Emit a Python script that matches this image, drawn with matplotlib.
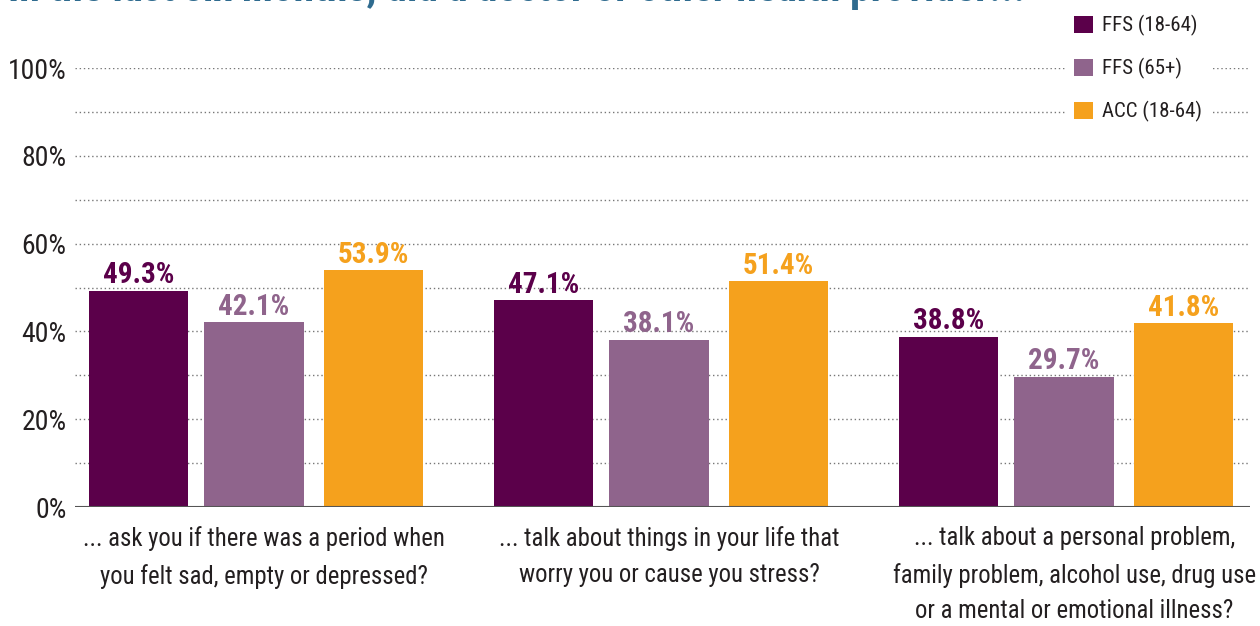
import matplotlib.pyplot as plt
import numpy as np

plt.rcParams["font.family"] = ["Roboto Condensed", "PT Sans Narrow", "IBM Plex Sans Condensed", "DejaVu Sans"]

# data
categories = [
    "... ask you if there was a period when\nyou felt sad, empty or depressed?",
    "... talk about things in your life that\nworry you or cause you stress?",
    "... talk about a personal problem,\nfamily problem, alcohol use, drug use\nor a mental or emotional illness?",
]
series_names = ["FFS (18-64)", "FFS (65+)", "ACC (18-64)"]
ffs_18_64 = [49.3, 47.1, 38.8]
ffs_65 = [42.1, 38.1, 29.7]
acc_18_64 = [53.9, 51.4, 41.8]
yticks = [0, 20, 40, 60, 80, 100]
ytick_labels = ["0%", "20%", "40%", "60%", "80%", "100%"]

colors = ["#5b004a", "#8f648c", "#f5a11d"]
text_dark = "#231f20"
title_color = "#2f6b8f"

fig = plt.figure(figsize=(12.6, 6.26), dpi=100)
fig.set_facecolor("w")
ax = fig.add_axes([75 / 1260, 1 - 507 / 626, 1175 / 1260, (507 - 68) / 626])

x = np.arange(len(categories))
offsets = [-0.29, -0.005, 0.29]
width = 0.245

for vals, off, col, name in zip([ffs_18_64, ffs_65, acc_18_64], offsets, colors, series_names):
    bars = ax.bar(x + off, vals, width, color=col, label=name, zorder=3)
    for b, v in zip(bars, vals):
        ax.annotate(f"{v:.1f}%", (b.get_x() + b.get_width() / 2, v),
                    xytext=(0, 1), textcoords="offset points",
                    ha="center", va="bottom", fontsize=21, fontweight="bold",
                    color=col, zorder=4)

ax.set_xlim(-0.447, 2.454)
ax.set_ylim(0, 100)

# dotted grid every 10%
for g in range(10, 101, 10):
    ax.axhline(g, color="#777777", linestyle=(0, (1, 2)), linewidth=1, zorder=1)
ax.axhline(0, color="#555555", linewidth=1.5, zorder=5)

for s in ax.spines.values():
    s.set_visible(False)

ax.set_yticks(yticks)
ax.set_yticklabels(ytick_labels, fontsize=20, color=text_dark)
ax.tick_params(axis="y", length=0, pad=6)

ax.set_xticks(x + 0.02)
ax.set_xticklabels(categories, fontsize=17.8, color=text_dark, linespacing=1.62)
ax.tick_params(axis="x", length=0, pad=14)

leg = ax.legend(loc="upper left", bbox_to_anchor=(1066 / 1260, 1 - 7 / 626),
                bbox_transform=fig.transFigure, frameon=True, fontsize=15,
                handlelength=0.9, handleheight=0.9, handletextpad=0.45,
                labelspacing=1.05, borderpad=0.4, borderaxespad=0)
leg.get_frame().set_facecolor("white")
leg.get_frame().set_edgecolor("none")
leg.get_frame().set_alpha(1)
leg.set_zorder(10)
for t in leg.get_texts():
    t.set_color(text_dark)

# title, cut off at the top edge as in the source
fig.text(8 / 1260, 1 - 1 / 626,
         "In the last six months, did a doctor or other health provider...",
         fontsize=30, fontweight="bold", color=title_color,
         ha="left", va="baseline")

plt.savefig("out.png", dpi=100)
